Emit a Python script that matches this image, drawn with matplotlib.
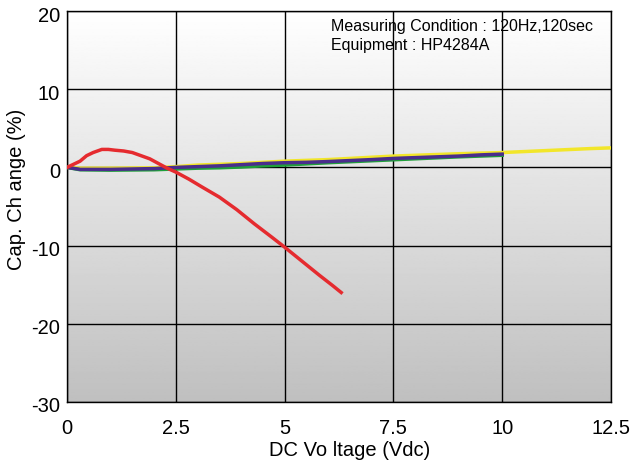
import numpy as np
import matplotlib.pyplot as plt
from matplotlib.transforms import ScaledTranslation

plt.rcParams['font.family'] = ['Liberation Sans', 'DejaVu Sans']
plt.rcParams['axes.unicode_minus'] = False

# red curve
red_x = [0, 0.15, 0.3, 0.45, 0.6, 0.8, 0.95, 1.1, 1.3, 1.5, 1.7, 1.9, 2.1, 2.3, 2.5, 2.8, 3.1, 3.5, 3.9, 4.3, 4.7, 5.0, 5.4, 5.8, 6.1, 6.3]
red_y = [0.0, 0.4, 0.8, 1.5, 1.9, 2.3, 2.3, 2.2, 2.1, 1.9, 1.5, 1.1, 0.5, -0.1, -0.6, -1.5, -2.5, -3.8, -5.4, -7.2, -8.9, -10.2, -12.0, -13.8, -15.1, -16.0]

# yellow curve
yellow_x = [0, 0.3, 1.0, 2.0, 2.5, 3.0, 3.5, 4.0, 5.0, 6.0, 7.0, 7.5, 8.0, 9.0, 10.0, 11.0, 12.0, 12.5]
yellow_y = [0.0, -0.1, -0.1, -0.05, 0.1, 0.3, 0.4, 0.5, 0.8, 1.0, 1.3, 1.45, 1.55, 1.75, 1.9, 2.15, 2.4, 2.5]

# green curve
green_x = [0, 0.3, 1.0, 2.0, 2.5, 3.0, 3.5, 4.0, 4.5, 5.0, 5.5, 6.0, 7.0, 8.0, 9.0, 10.0]
green_y = [0.0, -0.3, -0.35, -0.3, -0.2, -0.1, -0.05, 0.05, 0.2, 0.3, 0.45, 0.6, 0.85, 1.1, 1.35, 1.55]

# purple curve
purple_x = [0, 0.3, 1.0, 1.5, 2.0, 2.5, 3.0, 3.5, 4.0, 4.5, 5.0, 5.5, 6.0, 7.0, 7.5, 8.0, 9.0, 9.5, 10.0]
purple_y = [0.0, -0.25, -0.25, -0.2, -0.15, 0.0, 0.1, 0.2, 0.35, 0.5, 0.6, 0.65, 0.75, 1.0, 1.15, 1.25, 1.45, 1.6, 1.7]

xticks = [0, 2.5, 5, 7.5, 10, 12.5]
xticklabels = ['0', '2.5', '5', '7.5', '10', '12.5']
yticks = [-30, -20, -10, 0, 10, 20]

fig = plt.figure(figsize=(6.39, 4.69), dpi=100)
ax = fig.add_axes([0.1049, 0.1429, 0.8513, 0.8336])

grad = np.linspace(1.0, 0.75, 256).reshape(-1, 1)
ax.imshow(grad, cmap='gray', vmin=0, vmax=1, aspect='auto',
          extent=[0, 12.5, -30, 20], origin='upper', zorder=0)

ax.set_xlim(0, 12.5)
ax.set_ylim(-30, 20)
ax.set_xticks(xticks)
ax.set_xticklabels(xticklabels)
ax.set_yticks(yticks)
ax.grid(True, color='black', linewidth=1, zorder=1)
ax.set_axisbelow(True)
ax.tick_params(axis='x', length=0, labelsize=14.5, pad=12)
ax.tick_params(axis='y', length=0, labelsize=14.5, pad=5)

# y labels sit a little below their grid lines
shift = ScaledTranslation(0, -3 / 100, fig.dpi_scale_trans)
for lbl in ax.get_yticklabels():
    lbl.set_transform(lbl.get_transform() + shift)

ax.plot(yellow_x, yellow_y, color='#f2e62a', linewidth=2.5, zorder=3)
ax.plot(green_x, green_y, color='#1f9e3a', linewidth=2.5, zorder=3)
ax.plot(purple_x, purple_y, color='#4a2d8c', linewidth=2.5, zorder=4)
ax.plot(red_x, red_y, color='#e52b2f', linewidth=2.5, zorder=5)

for s in ax.spines.values():
    s.set_color('black')
    s.set_linewidth(1)

ax.set_xlabel('DC Vo ltage (Vdc)', fontsize=14.5)
ax.xaxis.set_label_coords(0.52, -0.1)
ax.set_ylabel('Cap. Ch ange (%)', fontsize=14.5)
ax.yaxis.set_label_coords(-0.092, 0.545)
ax.yaxis.label.set_va('center')

ax.text(0.485, 0.96, 'Measuring Condition : 120Hz,120sec', transform=ax.transAxes,
        fontsize=11.5, va='center', ha='left', zorder=6)
ax.text(0.485, 0.911, 'Equipment : HP4284A', transform=ax.transAxes,
        fontsize=11.5, va='center', ha='left', zorder=6)

fig.savefig('out.png', dpi=100)
